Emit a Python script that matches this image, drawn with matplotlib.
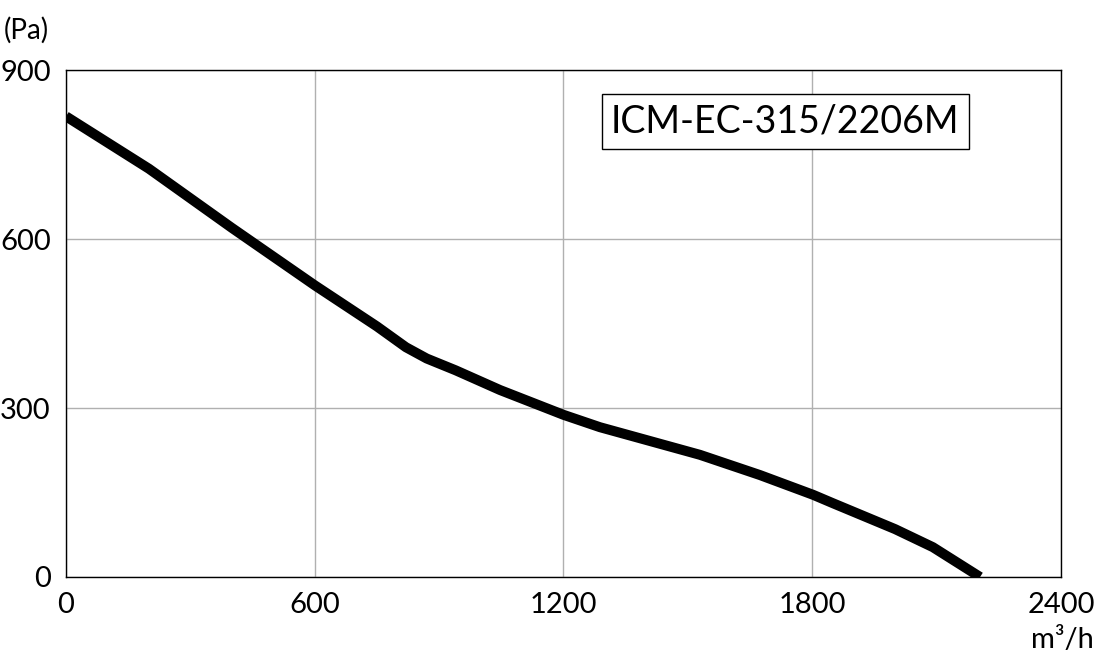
import matplotlib.pyplot as plt

# fan curve
flow = [0, 200, 400, 600, 750, 820, 870, 940, 1047, 1200, 1288, 1529, 1674, 1802, 1850, 2000, 2091, 2205]
pressure = [818, 725, 620, 518, 445, 408, 388, 367, 332, 288, 266, 217, 181, 146, 131, 85, 53, 0]

x_ticks = [0, 600, 1200, 1800, 2400]
y_ticks = [0, 300, 600, 900]
model = "ICM-EC-315/2206M"

plt.rcParams['font.family'] = ['Lato', 'DejaVu Sans']

fig = plt.figure(figsize=(11, 6.62), dpi=100)
ax = fig.add_axes([0.06, 0.1284, 0.9045, 0.7656])

ax.plot(flow, pressure, color='black', linewidth=7.2, solid_capstyle='butt',
        solid_joinstyle='round')

ax.set_xlim(0, 2400)
ax.set_ylim(0, 900)
ax.set_xticks(x_ticks)
ax.set_yticks(y_ticks)
ax.tick_params(length=0, labelsize=21, pad=11)
ax.grid(True, color='#b0b0b0', linewidth=1)
for s in ax.spines.values():
    s.set_linewidth(1)

ax.text(0.723, 0.899, model, transform=ax.transAxes, fontsize=27,
        ha='center', va='center',
        bbox=dict(boxstyle='square,pad=0.25', facecolor='white', edgecolor='black', linewidth=1))

fig.text(4 / 1100, 1 - 30 / 662, "(Pa)", fontsize=20, ha='left', va='center')
fig.text(1094 / 1100, 1 - 640 / 662, "m³/h", fontsize=21, ha='right', va='center')

fig.savefig("out.png", dpi=100)
